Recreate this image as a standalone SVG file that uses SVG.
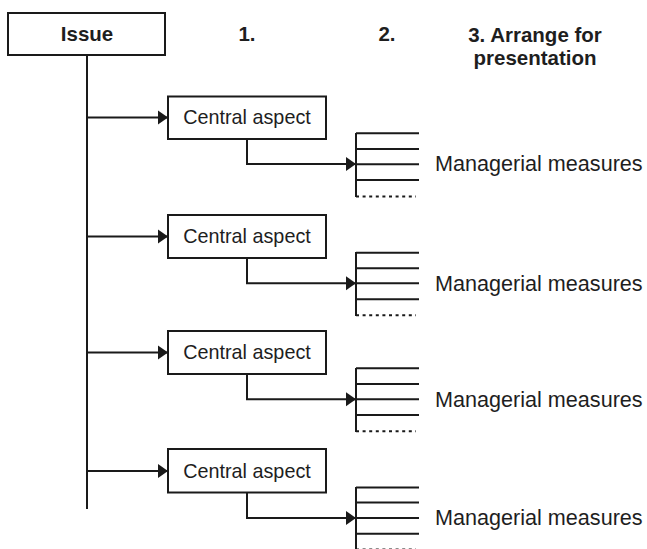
<svg xmlns="http://www.w3.org/2000/svg" width="647" height="549" viewBox="0 0 647 549">
<style>
.ln{fill:none;stroke:#1a1a1a;stroke-width:2}
.bx{fill:#fff;stroke:#1a1a1a;stroke-width:2}
.dt{fill:none;stroke:#1a1a1a;stroke-width:2;stroke-dasharray:3 3.6}
.h{font-family:"Liberation Sans",Arial,sans-serif;font-weight:bold;font-size:20.5px;fill:#1e1e1e;text-anchor:middle}
.t{font-family:"Liberation Sans",Arial,sans-serif;font-size:19.8px;fill:#1e1e1e;text-anchor:middle}
.m{font-family:"Liberation Sans",Arial,sans-serif;font-size:21.6px;fill:#1e1e1e}
</style>
<defs>
<marker id="ah" markerUnits="userSpaceOnUse" markerWidth="11" markerHeight="16" refX="10" refY="7.5" orient="auto">
<path d="M0,0.5 L10,7.5 L0,14.5 Z" fill="#1a1a1a"/>
</marker>
</defs>
<g id="headings">
<text class="h" x="247" y="41">1.</text>
<text class="h" x="387" y="41">2.</text>
<text class="h" x="535" y="42">3. Arrange for</text>
<text class="h" x="535" y="65">presentation</text>
</g>
<g id="connectors">
<line class="ln" x1="87" y1="55" x2="87" y2="509"/>
<line class="ln" x1="87" y1="117.5" x2="168" y2="117.5" marker-end="url(#ah)"/>
<line class="ln" x1="87" y1="236.5" x2="168" y2="236.5" marker-end="url(#ah)"/>
<line class="ln" x1="87" y1="352.5" x2="168" y2="352.5" marker-end="url(#ah)"/>
<line class="ln" x1="87" y1="471" x2="168" y2="471" marker-end="url(#ah)"/>
<polyline class="ln" points="247,139 247,164 356,164" marker-end="url(#ah)"/>
<polyline class="ln" points="247,258 247,283.3 356,283.3" marker-end="url(#ah)"/>
<polyline class="ln" points="247,374 247,399.3 356,399.3" marker-end="url(#ah)"/>
<polyline class="ln" points="247,492.5 247,518 356,518" marker-end="url(#ah)"/>
</g>
<g id="issue">
<rect class="bx" x="8" y="13" width="157" height="42"/>
<text class="h" x="87" y="41">Issue</text>
</g>
<g id="aspect1">
<rect class="bx" x="168" y="96.5" width="158" height="42.5"/>
<text class="t" x="247" y="123.5">Central aspect</text>
</g>
<g id="aspect2">
<rect class="bx" x="168" y="215" width="158" height="43"/>
<text class="t" x="247" y="243">Central aspect</text>
</g>
<g id="aspect3">
<rect class="bx" x="168" y="331" width="158" height="43"/>
<text class="t" x="247" y="359">Central aspect</text>
</g>
<g id="aspect4">
<rect class="bx" x="168" y="449" width="158" height="43.5"/>
<text class="t" x="247" y="477.5">Central aspect</text>
</g>
<g id="measures1">
<line class="ln" x1="356" y1="133" x2="356" y2="197"/>
<path class="ln" d="M356,133.3H419M356,149H419M356,164.3H419M356,180H419"/>
<line class="dt" x1="356" y1="196.5" x2="416" y2="196.5"/>
<text class="m" x="435" y="171">Managerial measures</text>
</g>
<g id="measures2">
<line class="ln" x1="356" y1="252" x2="356" y2="316"/>
<path class="ln" d="M356,252.7H419M356,268.3H419M356,283.3H419M356,299.3H419"/>
<line class="dt" x1="356" y1="315.3" x2="416" y2="315.3"/>
<text class="m" x="435" y="290.5">Managerial measures</text>
</g>
<g id="measures3">
<line class="ln" x1="356" y1="368" x2="356" y2="432"/>
<path class="ln" d="M356,368.3H419M356,384H419M356,399.3H419M356,415H419"/>
<line class="dt" x1="356" y1="431.3" x2="416" y2="431.3"/>
<text class="m" x="435" y="406.5">Managerial measures</text>
</g>
<g id="measures4">
<line class="ln" x1="356" y1="487" x2="356" y2="549"/>
<path class="ln" d="M356,487.5H419M356,502.5H419M356,518H419M356,533.8H419"/>
<line class="dt" x1="356" y1="549" x2="416" y2="549" opacity="0.5"/>
<text class="m" x="435" y="525">Managerial measures</text>
</g>
</svg>
